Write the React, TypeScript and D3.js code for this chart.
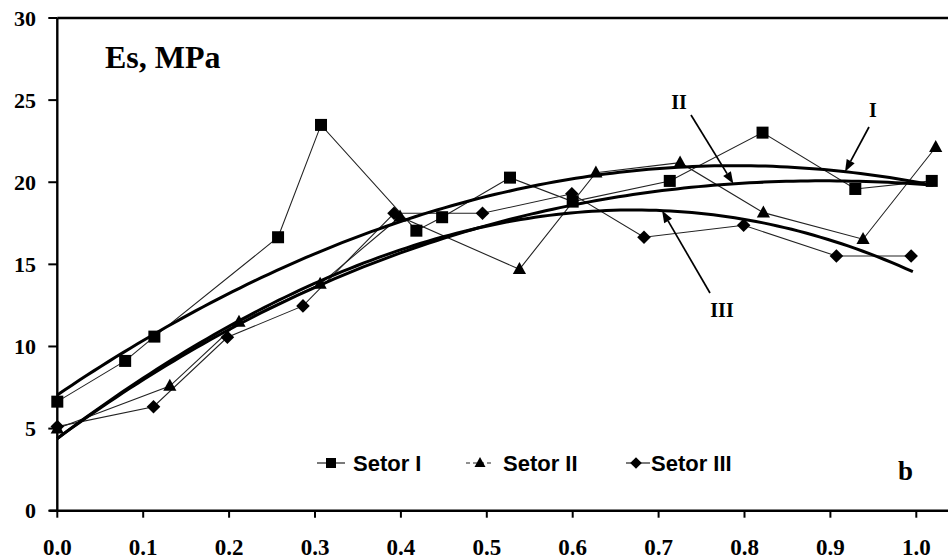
import React from "react";
import * as d3 from "d3";

// Relative position (x) and secant modulus Es (MPa) for each sector
const setorIX = [0.0, 0.079, 0.113, 0.257, 0.307, 0.418, 0.448, 0.527, 0.6, 0.713, 0.821, 0.929, 1.018];
const setorIY = [6.64, 9.12, 10.6, 16.65, 23.49, 17.05, 17.87, 20.28, 18.82, 20.08, 23.02, 19.59, 20.08];

const setorIIX = [0.0, 0.131, 0.2115, 0.306, 0.399, 0.538, 0.627, 0.725, 0.822, 0.938, 1.0226];
const setorIIY = [5.0, 7.59, 11.5, 13.8, 17.9, 14.7, 20.58, 21.19, 18.15, 16.53, 22.13];

const setorIIIX = [0.0, 0.112, 0.198, 0.286, 0.392, 0.495, 0.599, 0.683, 0.799, 0.907, 0.994];
const setorIIIY = [5.12, 6.33, 10.56, 12.47, 18.11, 18.11, 19.3, 16.65, 17.38, 15.51, 15.51];

// Polynomial trend coefficients (constant term first) and their x extent
const trendICoef = [7.05, 35.39, -22.43];
const trendIICoef = [4.4, 38.37, -26.88, 4.01];
const trendIIICoef = [4.4, 39.22, -24.27, -4.895];
const trendIEnd = 1.02;
const trendIIEnd = 1.018;
const trendIIIEnd = 0.996;

const xTicks = [0, 0.1, 0.2, 0.3, 0.4, 0.5, 0.6, 0.7, 0.8, 0.9, 1.0];
const yTicks = [0, 5, 10, 15, 20, 25, 30];
const legendNames = ["Setor I", "Setor II", "Setor III"];

const W = 948;
const H = 560;

const x = d3.scaleLinear().domain([0, 1.04]).range([57.3, 57.3 + 1.04 * 859]);
const y = d3.scaleLinear().domain([0, 30]).range([510.7, 18]);

const poly = (c: number[]) => (t: number) => c.reduce((s, k, i) => s + k * Math.pow(t, i), 0);

const serif = "'Liberation Serif', 'Times New Roman', serif";
const sans = "'Liberation Sans', Arial, sans-serif";

function Marker({ kind, cx, cy, s }: { kind: string; cx: number; cy: number; s: number }) {
  if (kind === "square") {
    return <rect x={cx - s / 2} y={cy - s / 2} width={s} height={s} fill="#000" />;
  }
  if (kind === "triangle") {
    const w = s * 1.1;
    const h = s;
    return (
      <polygon
        points={`${cx},${cy - h * 0.6} ${cx + w / 2},${cy + h * 0.4} ${cx - w / 2},${cy + h * 0.4}`}
        fill="#000"
      />
    );
  }
  const r = s / 2 + 0.8;
  return <polygon points={`${cx},${cy - r} ${cx + r},${cy} ${cx},${cy + r} ${cx - r},${cy}`} fill="#000" />;
}

function Arrow({ x1, y1, x2, y2 }: { x1: number; y1: number; x2: number; y2: number }) {
  const dx = x2 - x1;
  const dy = y2 - y1;
  const len = Math.hypot(dx, dy);
  const ux = dx / len;
  const uy = dy / len;
  const hl = 12;
  const hw = 4.5;
  const bx = x2 - ux * hl;
  const by = y2 - uy * hl;
  return (
    <g>
      <line x1={x1} y1={y1} x2={bx} y2={by} stroke="#000" strokeWidth={1.7} />
      <polygon
        points={`${x2},${y2} ${bx - uy * hw},${by + ux * hw} ${bx + uy * hw},${by - ux * hw}`}
        fill="#000"
      />
    </g>
  );
}

export default function App() {
  const series = [
    { xs: setorIX, ys: setorIY, kind: "square" },
    { xs: setorIIX, ys: setorIIY, kind: "triangle" },
    { xs: setorIIIX, ys: setorIIIY, kind: "diamond" },
  ];
  const trends = [
    { f: poly(trendICoef), end: trendIEnd },
    { f: poly(trendIICoef), end: trendIIEnd },
    { f: poly(trendIIICoef), end: trendIIIEnd },
  ];

  const lineGen = d3
    .line<[number, number]>()
    .x((d) => x(d[0]))
    .y((d) => y(d[1]));

  const trendPath = (f: (t: number) => number, end: number) => {
    const pts: [number, number][] = d3.range(0, 121).map((i) => {
      const t = (end * i) / 120;
      return [t, f(t)];
    });
    return lineGen(pts) || "";
  };

  // arrow tips sit on the trend curves
  const tipI = { x: x(0.917), y: y(trends[0].f(0.917)) };
  const tipII = { x: x(0.787), y: y(trends[1].f(0.787)) };
  const tipIII = { x: x(0.704), y: y(trends[2].f(0.704)) };

  const legendY = 463;
  const legendItems = [
    { kind: "square", lx1: 317, lx2: 345, mx: 331, tx: 353, dash: undefined },
    { kind: "triangle", lx1: 466, lx2: 494, mx: 480, tx: 503, dash: "4,3" },
    { kind: "diamond", lx1: 626, lx2: 650, mx: 636, tx: 651, dash: undefined },
  ];

  return (
    <svg
      width={W}
      height={H}
      viewBox={`0 0 ${W} ${H}`}
      style={{ position: "absolute", left: 0, top: 0, background: "#fff" }}
    >
      <rect x={0} y={0} width={W} height={H} fill="#fff" />

      {/* frame */}
      <line x1={x(0)} y1={y(30)} x2={W + 2} y2={y(30)} stroke="#000" strokeWidth={2.4} />
      <line x1={x(0)} y1={y(30)} x2={x(0)} y2={y(0)} stroke="#000" strokeWidth={2.4} />
      <line x1={x(0) - 8} y1={y(0)} x2={W + 2} y2={y(0)} stroke="#000" strokeWidth={2.4} />

      {/* y axis ticks and labels */}
      {yTicks.map((t) => (
        <g key={`y${t}`}>
          <line x1={x(0) - 9} x2={x(0)} y1={y(t)} y2={y(t)} stroke="#000" strokeWidth={2} />
          <text
            x={36}
            y={y(t)}
            dy="0.35em"
            textAnchor="end"
            fontFamily={serif}
            fontWeight="bold"
            fontSize={22}
          >
            {t}
          </text>
        </g>
      ))}

      {/* x axis ticks and labels */}
      {xTicks.map((t) => (
        <g key={`x${t}`}>
          <line x1={x(t)} x2={x(t)} y1={y(0)} y2={y(0) + 7} stroke="#000" strokeWidth={2} />
          <text
            x={x(t)}
            y={555}
            textAnchor="middle"
            fontFamily={serif}
            fontWeight="bold"
            fontSize={23}
          >
            {t.toFixed(1)}
          </text>
        </g>
      ))}

      {/* data series */}
      {series.map((s, i) => (
        <path
          key={`s${i}`}
          d={lineGen(s.xs.map((v, j) => [v, s.ys[j]] as [number, number])) || ""}
          fill="none"
          stroke="#222"
          strokeWidth={1.1}
        />
      ))}

      {/* trend curves */}
      {trends.map((t, i) => (
        <path key={`t${i}`} d={trendPath(t.f, t.end)} fill="none" stroke="#000" strokeWidth={3} />
      ))}

      {series.map((s, i) =>
        s.xs.map((v, j) => (
          <Marker key={`m${i}-${j}`} kind={s.kind} cx={x(v)} cy={y(s.ys[j])} s={12} />
        ))
      )}

      {/* curve annotations */}
      <Arrow x1={869} y1={127} x2={tipI.x} y2={tipI.y} />
      <Arrow x1={691} y1={115} x2={tipII.x} y2={tipII.y} />
      <Arrow x1={710} y1={293} x2={tipIII.x} y2={tipIII.y} />
      <text x={873} y={117} textAnchor="middle" fontFamily={serif} fontWeight="bold" fontSize={20}>
        I
      </text>
      <text x={679} y={109} textAnchor="middle" fontFamily={serif} fontWeight="bold" fontSize={20}>
        II
      </text>
      <text x={722} y={317} textAnchor="middle" fontFamily={serif} fontWeight="bold" fontSize={20}>
        III
      </text>

      {/* axis title */}
      <text x={105} y={68} fontFamily={serif} fontWeight="bold" fontSize={32}>
        Es, MPa
      </text>

      {/* legend */}
      {legendItems.map((it, i) => (
        <g key={`l${i}`}>
          <line
            x1={it.lx1}
            x2={it.lx2}
            y1={legendY}
            y2={legendY}
            stroke="#222"
            strokeWidth={1.2}
            strokeDasharray={it.dash}
          />
          <Marker kind={it.kind} cx={it.mx} cy={legendY} s={10} />
          <text x={it.tx} y={legendY + 8} fontFamily={sans} fontWeight="bold" fontSize={22}>
            {legendNames[i]}
          </text>
        </g>
      ))}

      {/* panel letter */}
      <text x={898} y={480} fontFamily={serif} fontWeight="bold" fontSize={27}>
        b
      </text>
    </svg>
  );
}
